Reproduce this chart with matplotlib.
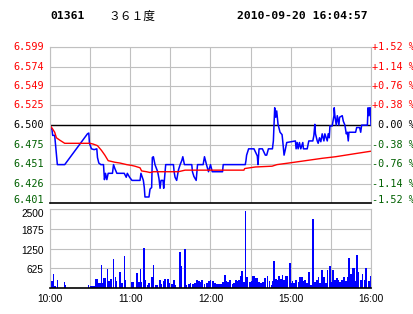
import matplotlib
matplotlib.use("Agg")
import matplotlib.pyplot as plt
from matplotlib.transforms import ScaledTranslation, blended_transform_factory

# === data ===
# minutes from the open (10:00-12:30, 14:30-16:00 -> 0..240)
price_t = [0, 1.5, 2, 3.5, 5.5, 11, 28, 29, 29.5, 31,
           33, 35, 35.5, 36.5, 38, 40, 40.7, 41.5, 42.5, 43.5,
           46.7, 47.5, 48.5, 50, 55.5, 57, 57.8, 59.5, 61.3, 67.3,
           68, 69.8, 70.5, 71, 74, 74.8, 76, 76.5, 77.3, 78.5,
           80.5, 81.5, 82.3, 83, 84.5, 85, 85.5, 86, 86.5, 92.3,
           92.8, 93.5, 94.7, 96, 97.3, 98.5, 99.3, 100.5, 106, 106.5,
           107.6, 109.3, 110.3, 114.5, 115.5, 117, 118.5, 120, 121.3, 129,
           129.5, 146, 146.5, 147, 148.5, 152.5, 155, 155.5, 156.3, 158.8,
           161, 162, 163.3, 166.3, 167, 168, 168.8, 169.5, 170.5, 172,
           173.5, 174, 175, 175.8, 177, 183.5, 184, 184.8, 185.5, 186.5,
           187.5, 189, 189.5, 192.3, 193.5, 196.5, 197.3, 198, 198.5, 199.8,
           200.5, 201.5, 202.5, 203.5, 204.8, 205.5, 206.5, 207.3, 208, 208.8,
           209.3, 211, 212.3, 212.5, 213, 214, 214.8, 216, 216.5, 218.5,
           219.3, 220.5, 221.5, 222.3, 223, 223.5, 228.5, 229.3, 231.5, 232.3,
           233, 237.3, 237.8, 238.5, 239, 239.5, 240]
price_p = [6.500, 6.494, 6.487, 6.487, 6.450, 6.450, 6.489, 6.490, 6.477, 6.470,
           6.469, 6.470, 6.459, 6.452, 6.450, 6.450, 6.431, 6.439, 6.431, 6.439,
           6.439, 6.450, 6.445, 6.439, 6.439, 6.434, 6.439, 6.434, 6.430, 6.430,
           6.439, 6.430, 6.421, 6.409, 6.409, 6.419, 6.421, 6.459, 6.460, 6.450,
           6.441, 6.432, 6.420, 6.430, 6.430, 6.420, 6.430, 6.441, 6.450, 6.450,
           6.441, 6.434, 6.430, 6.443, 6.450, 6.455, 6.460, 6.450, 6.450, 6.441,
           6.435, 6.430, 6.450, 6.450, 6.460, 6.450, 6.441, 6.450, 6.441, 6.441,
           6.450, 6.450, 6.455, 6.462, 6.470, 6.470, 6.461, 6.450, 6.470, 6.470,
           6.462, 6.462, 6.470, 6.470, 6.480, 6.522, 6.510, 6.518, 6.501, 6.491,
           6.488, 6.480, 6.462, 6.468, 6.478, 6.480, 6.470, 6.478, 6.470, 6.478,
           6.470, 6.478, 6.470, 6.470, 6.480, 6.480, 6.487, 6.501, 6.489, 6.480,
           6.477, 6.484, 6.479, 6.489, 6.480, 6.489, 6.484, 6.480, 6.489, 6.484,
           6.499, 6.499, 6.512, 6.522, 6.512, 6.500, 6.512, 6.500, 6.510, 6.512,
           6.505, 6.500, 6.489, 6.491, 6.480, 6.491, 6.491, 6.497, 6.497, 6.491,
           6.500, 6.500, 6.522, 6.512, 6.522, 6.522, 6.500]

avg_t = [0, 2, 3.5, 4.8, 7.3, 11, 30, 32.3, 35.5, 38.5, 41, 43.5, 48.5, 52.3,
         57.3, 61, 63.5, 67.3, 68.5, 72.2, 74.8, 77.3, 96, 101, 145, 145.5,
         153.5, 166, 169.7, 178.5, 191, 203.5, 213.5, 228.5, 240]
avg_p = [6.500, 6.495, 6.491, 6.484, 6.481, 6.477, 6.477, 6.476, 6.474, 6.468,
         6.462, 6.455, 6.453, 6.452, 6.450, 6.449, 6.448, 6.446, 6.442, 6.441,
         6.440, 6.441, 6.441, 6.443, 6.443, 6.445, 6.447, 6.448, 6.450, 6.452,
         6.455, 6.458, 6.460, 6.464, 6.467]

vol_t = [0, 0.75, 1.75, 2.5, 3.75, 5.5, 10.75, 11.5, 28.75, 30.75,
         31.75, 32.75, 34.25, 35.5, 36.75, 37.5, 38.5, 39.25, 40, 41.25,
         43, 44.25, 45.75, 47.5, 49, 49.75, 52.5, 54, 55.75, 56.5,
         61.25, 62, 65, 66.75, 67.75, 68.5, 70.5, 71.5, 72.75, 74,
         76.25, 77.5, 79, 80, 82.25, 83.5, 85, 86, 88.25, 89.25,
         91, 92.5, 93.75, 97, 98.25, 100.75, 101.5, 103.75, 105, 106.75,
         108.25, 110, 111.5, 112.5, 113.75, 115.5, 117.5, 118.75, 120, 121.75,
         123.25, 125, 126.5, 128, 129.25, 130.75, 132, 133, 134.5, 136.5,
         137.5, 139, 140.25, 141.5, 142.5, 143.75, 145, 146.25, 147.25, 149.5,
         150.75, 151.75, 152.5, 154, 155, 156.25, 157.75, 159.25, 160.75, 162.5,
         164, 165.5, 166.75, 167.5, 168.75, 170, 171.25, 172.5, 173.75, 175,
         176.25, 177.5, 179.25, 180, 181.25, 182.5, 183.75, 185.75, 186.75, 188.25,
         189.5, 190.75, 192, 193.75, 195, 196.75, 198, 199.5, 200.75, 202,
         203.5, 205, 206.25, 207.5, 209.25, 210.5, 211.75, 213.25, 214.5, 215.5,
         216.75, 218.25, 220, 221.25, 222.5, 223.75, 225, 226.25, 227.5, 228.75,
         229.5, 230.75, 232.5, 233.75, 235, 235.75, 236.75, 238, 239.25, 240]
vol_v = [211, 211, 211, 454, 60, 264, 200, 105, 105, 74,
         74, 74, 295, 295, 158, 158, 738, 158, 327, 306,
         612, 211, 295, 918, 359, 232, 496, 158, 1023, 253,
         179, 179, 464, 190, 612, 179, 1255, 264, 105, 158,
         359, 738, 105, 105, 264, 137, 221, 285, 285, 158,
         137, 264, 105, 1150, 696, 1244, 105, 137, 158, 137,
         158, 243, 211, 179, 264, 137, 158, 232, 264, 211,
         158, 137, 137, 137, 179, 422, 232, 179, 264, 137,
         158, 243, 211, 264, 369, 528, 200, 2458, 348, 179,
         211, 369, 390, 316, 316, 179, 158, 179, 316, 369,
         211, 105, 211, 865, 285, 264, 390, 285, 411, 264,
         369, 390, 802, 158, 211, 158, 264, 179, 348, 348,
         211, 264, 158, 496, 105, 2194, 179, 264, 348, 158,
         580, 348, 158, 559, 686, 179, 580, 264, 316, 264,
         179, 243, 348, 211, 348, 939, 454, 622, 643, 211,
         1055, 496, 264, 454, 264, 643, 633, 211, 211, 369]

price_labels = ["6.401", "6.426", "6.451", "6.475", "6.500",
                "6.525", "6.549", "6.574", "6.599"]
pct_labels = ["-1.52 %", "-1.14 %", "-0.76 %", "-0.38 %", " 0.00 %",
              "+0.38 %", "+0.76 %", "+1.14 %", "+1.52 %"]
vol_ticks = [625, 1250, 1875, 2500]
time_ticks = [0, 60, 120, 180, 240]
time_labels = ["10:00", "11:00", "12:00", "15:00", "16:00"]

prev_close = 6.500
code = "01361"
name = "３６１度"
stamp = "2010-09-20 16:04:57"

# === figure ===
W, H = 414, 314
GRID = "#c0c0c0"
RED = "#ff0000"
GREEN = "#006000"
MONO = "DejaVu Sans Mono"


def rect(l, t, r, b):
    return [l / W, 1 - b / H, (r - l) / W, (b - t) / H]


def shift(dx, dy):
    # offset in pixels (figure is drawn at 100 dpi)
    return ScaledTranslation(dx / 100, -dy / 100, fig.dpi_scale_trans)


fig = plt.figure(figsize=(W / 100, H / 100), dpi=100)
ax = fig.add_axes(rect(50, 47, 371, 203.3))
axv = fig.add_axes(rect(50, 209.3, 371, 288))

ticks = [float(s) for s in price_labels]
lab_colors = [GREEN] * 4 + ["black"] + [RED] * 4

# price panel
ax.set_xlim(0, 240)
ax.set_ylim(ticks[0], ticks[-1])
ax.set_xticks(range(0, 241, 30))
ax.set_yticks(ticks)
ax.tick_params(length=0, labelleft=False, labelbottom=False)
ax.grid(True, color=GRID, lw=0.8)
ax.set_axisbelow(True)
ax.axhline(prev_close, color="black", lw=1.0)
ax.plot(price_t, price_p, color="#0000ff", lw=1.1)
ax.plot(avg_t, avg_p, color=RED, lw=1.0)
for s in ["left", "top", "right"]:
    ax.spines[s].set_color(GRID)
    ax.spines[s].set_linewidth(0.8)
ax.spines["bottom"].set_color("black")
ax.spines["bottom"].set_linewidth(1.2)

# price / percent labels, the bottom pair lifted above the frame line
tr = blended_transform_factory(ax.transAxes, ax.transData)
for i, (v, pl, cl, c) in enumerate(zip(ticks, price_labels, pct_labels, lab_colors)):
    dy = -3.5 if i == 0 else 0
    ax.text(0, v, pl, transform=tr + shift(-5.5, dy), ha="right", va="center",
            family=MONO, fontsize=7.3, color=c)
    ax.text(1, v, cl, transform=tr + shift(0.8, dy), ha="left", va="center",
            family=MONO, fontsize=7.3, color=c)

# volume panel
axv.bar(vol_t, vol_v, width=1.2, color="#0000ff", lw=0, antialiased=False)
axv.set_xlim(0, 240)
axv.set_ylim(0, 2500)
axv.set_yticks(vol_ticks)
axv.tick_params(axis="y", length=0, labelleft=False)
trv = blended_transform_factory(axv.transAxes, axv.transData)
for v in vol_ticks:
    dy = 4.5 if v == vol_ticks[-1] else 2
    axv.text(0, v, str(v), transform=trv + shift(-6.3, dy), ha="right",
             va="center", family="Liberation Sans", fontsize=7.3)
axv.set_xticks(range(0, 241, 30))
axv.set_xticklabels(["" if t not in time_ticks else time_labels[time_ticks.index(t)]
                     for t in range(0, 241, 30)],
                    family="Liberation Sans", fontsize=7.3)
axv.tick_params(axis="x", length=0, pad=4.5)
axv.grid(True, color=GRID, lw=0.8)
axv.set_axisbelow(True)
for s in ["left", "top", "right"]:
    axv.spines[s].set_color(GRID)
    axv.spines[s].set_linewidth(0.8)
axv.spines["bottom"].set_color("black")
axv.spines["bottom"].set_linewidth(1.2)

# header
y0 = 1 - 16.3 / H
fig.text(50 / W, y0, code, family=MONO, weight="bold", fontsize=8.2, va="center")
fig.text(108 / W, y0, name, family=["Noto Sans CJK SC", "DejaVu Sans"],
         fontsize=8.5, va="center")
fig.text(237 / W, y0, stamp, family=MONO, weight="bold", fontsize=8.2, va="center")

fig.savefig("out.png", dpi=100, facecolor="white")
